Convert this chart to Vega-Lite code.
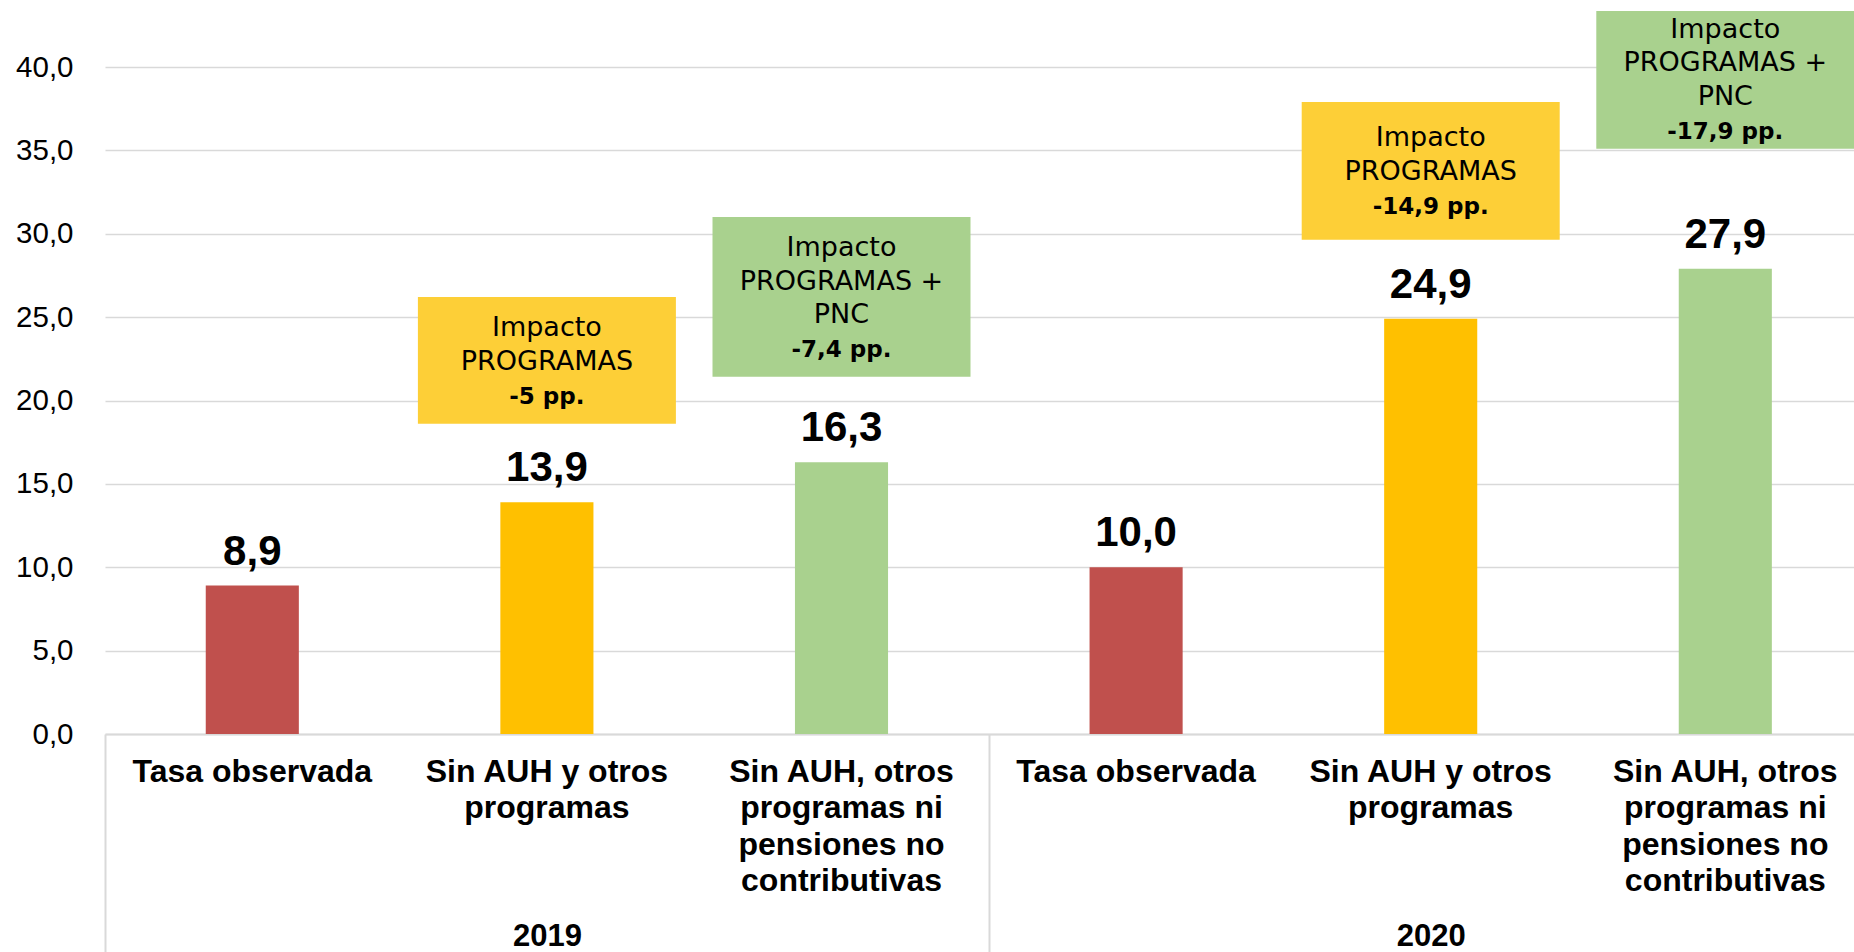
{
  "$schema": "https://vega.github.io/schema/vega-lite/v6.json",
  "width": 1749,
  "height": 667,
  "autosize": {"type": "none"},
  "padding": {"left": 105, "top": 67, "right": 0, "bottom": 218},
  "background": "white",
  "config": {"view": {"stroke": null}, "axis": {"labelFont": "Liberation Sans"}, "text": {"font": "Liberation Sans"}},
  "datasets": {
    "bars": [
      {"cat": "2019|Tasa observada", "serie": "obs", "v": 8.9, "lab": "8,9"},
      {"cat": "2019|Sin AUH y otros~programas", "serie": "prog", "v": 13.9, "lab": "13,9"},
      {"cat": "2019|Sin AUH, otros~programas ni~pensiones no~contributivas", "serie": "pnc", "v": 16.3, "lab": "16,3"},
      {"cat": "2020|Tasa observada", "serie": "obs", "v": 10.0, "lab": "10,0"},
      {"cat": "2020|Sin AUH y otros~programas", "serie": "prog", "v": 24.9, "lab": "24,9"},
      {"cat": "2020|Sin AUH, otros~programas ni~pensiones no~contributivas", "serie": "pnc", "v": 27.9, "lab": "27,9"}
    ],
    "boxes": [
      {"cat": "2019|Sin AUH y otros~programas", "kind": "prog", "top": 26.2, "bottom": 18.6},
      {"cat": "2019|Sin AUH, otros~programas ni~pensiones no~contributivas", "kind": "pnc", "top": 31.0, "bottom": 21.43},
      {"cat": "2020|Sin AUH y otros~programas", "kind": "prog", "top": 37.9, "bottom": 29.64},
      {"cat": "2020|Sin AUH, otros~programas ni~pensiones no~contributivas", "kind": "pnc", "top": 43.36, "bottom": 35.1}
    ],
    "notes": [
      {"cat": "2019|Sin AUH y otros~programas", "y": 24.35, "txt": "Impacto", "bold": false},
      {"cat": "2019|Sin AUH y otros~programas", "y": 22.33, "txt": "PROGRAMAS", "bold": false},
      {"cat": "2019|Sin AUH y otros~programas", "y": 20.23, "txt": "-5 pp.", "bold": true},
      {"cat": "2019|Sin AUH, otros~programas ni~pensiones no~contributivas", "y": 29.15, "txt": "Impacto", "bold": false},
      {"cat": "2019|Sin AUH, otros~programas ni~pensiones no~contributivas", "y": 27.12, "txt": "PROGRAMAS +", "bold": false},
      {"cat": "2019|Sin AUH, otros~programas ni~pensiones no~contributivas", "y": 25.13, "txt": "PNC", "bold": false},
      {"cat": "2019|Sin AUH, otros~programas ni~pensiones no~contributivas", "y": 23.03, "txt": "-7,4 pp.", "bold": true},
      {"cat": "2020|Sin AUH y otros~programas", "y": 35.74, "txt": "Impacto", "bold": false},
      {"cat": "2020|Sin AUH y otros~programas", "y": 33.72, "txt": "PROGRAMAS", "bold": false},
      {"cat": "2020|Sin AUH y otros~programas", "y": 31.62, "txt": "-14,9 pp.", "bold": true},
      {"cat": "2020|Sin AUH, otros~programas ni~pensiones no~contributivas", "y": 42.22, "txt": "Impacto", "bold": false},
      {"cat": "2020|Sin AUH, otros~programas ni~pensiones no~contributivas", "y": 40.24, "txt": "PROGRAMAS +", "bold": false},
      {"cat": "2020|Sin AUH, otros~programas ni~pensiones no~contributivas", "y": 38.22, "txt": "PNC", "bold": false},
      {"cat": "2020|Sin AUH, otros~programas ni~pensiones no~contributivas", "y": 36.12, "txt": "-17,9 pp.", "bold": true}
    ],
    "years": [{"year": "2019"}, {"year": "2020"}]
  },
  "layer": [
    {
      "layer": [
        {
          "data": {"name": "bars"},
          "mark": {"type": "bar"},
          "encoding": {
            "x": {
              "field": "cat", "type": "nominal", "sort": null,
              "scale": {
                "domain": [
                  "2019|Tasa observada",
                  "2019|Sin AUH y otros~programas",
                  "2019|Sin AUH, otros~programas ni~pensiones no~contributivas",
                  "2020|Tasa observada",
                  "2020|Sin AUH y otros~programas",
                  "2020|Sin AUH, otros~programas ni~pensiones no~contributivas"
                ],
                "range": [0, 1767.6], "paddingInner": 0.684, "paddingOuter": 0.342
              },
              "axis": {
                "title": null, "labelExpr": "split(split(datum.label, '|')[1], '~')",
                "labelAngle": 0, "labelFontSize": 32, "labelFontWeight": "bold", "labelColor": "#000000",
                "labelLineHeight": 36.5, "labelPadding": 22, "labelLimit": 0, "labelOverlap": false,
                "ticks": false, "domainColor": "#d9d9d9", "domainWidth": 2, "grid": false
              }
            },
            "y": {
              "field": "v", "type": "quantitative",
              "scale": {"domain": [0, 40], "nice": false},
              "axis": {
                "title": null, "values": [0, 5, 10, 15, 20, 25, 30, 35, 40],
                "labelExpr": "replace(format(datum.value, '.1f'), '.', ',')",
                "labelFontSize": 29.5, "labelColor": "#000000", "labelPadding": 32,
                "ticks": false, "domain": false, "gridColor": "#d9d9d9", "gridWidth": 1.5
              }
            },
            "color": {
              "field": "serie", "type": "nominal",
              "scale": {"domain": ["obs", "prog", "pnc"], "range": ["#C0504D", "#FFC000", "#A9D18E"]},
              "legend": null
            }
          }
        },
        {
          "data": {"name": "boxes"},
          "mark": {"type": "bar", "width": 258},
          "encoding": {
            "x": {"field": "cat", "type": "nominal", "sort": null},
            "y": {"field": "top", "type": "quantitative"},
            "y2": {"field": "bottom"},
            "fill": {
              "field": "kind", "type": "nominal",
              "scale": {"domain": ["prog", "pnc"], "range": ["#FDCF37", "#A9D18E"]},
              "legend": null
            }
          }
        },
        {
          "data": {"name": "notes"},
          "transform": [{"filter": "!datum.bold"}],
          "mark": {"type": "text", "font": "DejaVu Sans", "fontSize": 27, "baseline": "middle", "align": "center", "color": "#000000"},
          "encoding": {
            "x": {"field": "cat", "type": "nominal", "sort": null},
            "y": {"field": "y", "type": "quantitative"},
            "text": {"field": "txt"}
          }
        },
        {
          "data": {"name": "notes"},
          "transform": [{"filter": "datum.bold"}],
          "mark": {"type": "text", "font": "DejaVu Sans", "fontWeight": "bold", "fontSize": 23, "baseline": "middle", "align": "center", "color": "#000000"},
          "encoding": {
            "x": {"field": "cat", "type": "nominal", "sort": null},
            "y": {"field": "y", "type": "quantitative"},
            "text": {"field": "txt"}
          }
        },
        {
          "data": {"name": "bars"},
          "mark": {"type": "text", "font": "Liberation Sans", "fontWeight": "bold", "fontSize": 42, "baseline": "alphabetic", "align": "center", "dy": -21, "color": "#000000"},
          "encoding": {
            "x": {"field": "cat", "type": "nominal", "sort": null},
            "y": {"field": "v", "type": "quantitative"},
            "text": {"field": "lab"}
          }
        }
      ]
    },
    {
      "data": {"name": "years"},
      "mark": {"type": "text", "opacity": 0},
      "encoding": {
        "x": {
          "field": "year", "type": "nominal", "sort": null,
          "scale": {"range": [0, 1767.6], "paddingInner": 0, "paddingOuter": 0},
          "axis": {
            "orient": "bottom", "title": null, "tickBand": "extent", "domain": false,
            "ticks": true, "tickSize": 220, "tickColor": "#d9d9d9", "tickWidth": 2,
            "labelPadding": -33, "labelAngle": 0,
            "labelFontSize": 31, "labelFontWeight": "bold", "labelColor": "#000000", "grid": false
          }
        },
        "text": {"value": ""}
      }
    }
  ],
  "resolve": {"scale": {"x": "independent"}, "axis": {"x": "independent"}}
}
